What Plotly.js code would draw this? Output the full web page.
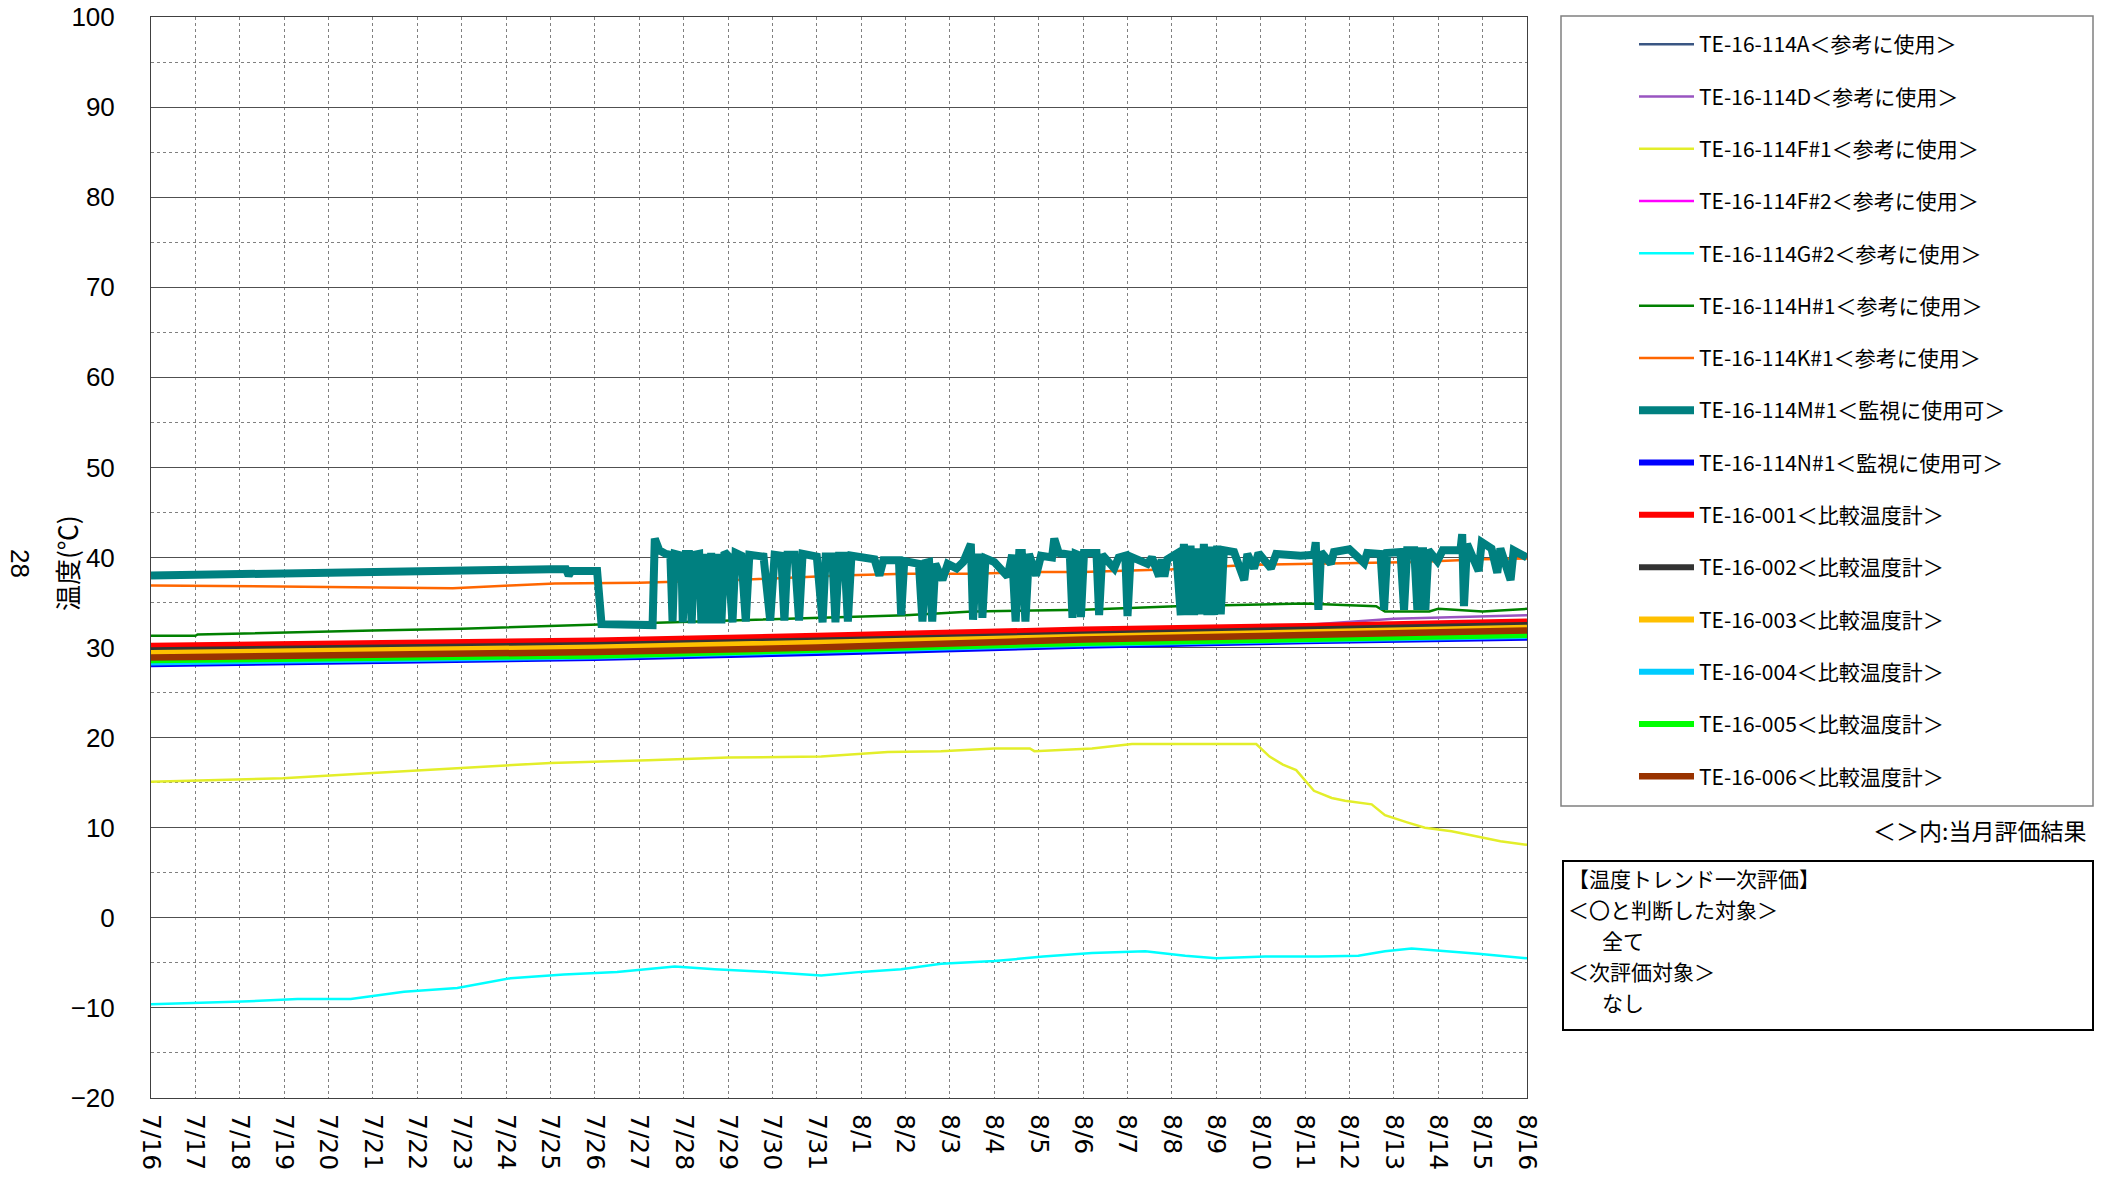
<!DOCTYPE html>
<html>
<head>
<meta charset="utf-8">
<script src="https://cdn.plot.ly/plotly-3.0.1.min.js"></script>
<style>html,body{margin:0;padding:0;background:#fff;}#chart{width:2109px;height:1180px;}</style>
</head>
<body>
<div id="chart"></div>
<script>
// ---- Data (x = days since 7/16) ----
const tickLabels = ['7/16','7/17','7/18','7/19','7/20','7/21','7/22','7/23','7/24','7/25','7/26','7/27','7/28','7/29','7/30','7/31',
  '8/1','8/2','8/3','8/4','8/5','8/6','8/7','8/8','8/9','8/10','8/11','8/12','8/13','8/14','8/15','8/16'];
const tickDays = [0,1,2,3,4,5,6,7,8,9,10,11,12,13,14,15,16,17,18,19,20,21,22,23,24,25,26,27,28,29,30,31];

const seriesNames = [
  'TE-16-114A＜参考に使用＞','TE-16-114D＜参考に使用＞','TE-16-114F#1＜参考に使用＞','TE-16-114F#2＜参考に使用＞',
  'TE-16-114G#2＜参考に使用＞','TE-16-114H#1＜参考に使用＞','TE-16-114K#1＜参考に使用＞','TE-16-114M#1＜監視に使用可＞',
  'TE-16-114N#1＜監視に使用可＞','TE-16-001＜比較温度計＞','TE-16-002＜比較温度計＞','TE-16-003＜比較温度計＞',
  'TE-16-004＜比較温度計＞','TE-16-005＜比較温度計＞','TE-16-006＜比較温度計＞'];

const aDays = [0, 10, 21, 31];
const aVals = [29.3, 29.9, 31.0, 32.0];
const dDays = [0, 10, 20, 26, 28, 31];
const dVals = [29.6, 30.2, 31.3, 32.5, 33.2, 33.6];
const f1Days = [0, 2.97, 5.1, 7.1, 9.0, 11.2, 13, 15.1, 16.6, 17.8, 19.0, 19.8, 19.9, 21.2, 22.1, 23.9, 24.9, 25.2, 25.5, 25.8, 26.2, 26.6, 26.9, 27.5, 27.8, 28.3, 28.7, 29.3, 29.9, 30.4, 31];
const f1Vals = [15.1, 15.5, 16.1, 16.7, 17.2, 17.5, 17.8, 17.9, 18.4, 18.5, 18.8, 18.8, 18.5, 18.8, 19.3, 19.3, 19.3, 17.9, 17.0, 16.4, 14.1, 13.3, 13.0, 12.6, 11.4, 10.6, 10.0, 9.6, 9.0, 8.5, 8.1];
const f2Days = [0, 10, 21, 31];
const f2Vals = [29.0, 29.6, 30.8, 31.8];
const g2Days = [0, 1.15, 2.06, 3.3, 4.5, 5.7, 6.9, 8.1, 9.3, 10.5, 11.8, 12.7, 13.9, 15.1, 16, 16.9, 17.8, 19, 20.1, 21.2, 22.4, 23.3, 24.0, 25.1, 26.3, 27.2, 27.8, 28.4, 29.2, 29.9, 31];
const g2Vals = [-9.6, -9.4, -9.3, -9.0, -9.0, -8.2, -7.8, -6.7, -6.3, -6.0, -5.4, -5.7, -6.0, -6.4, -6.0, -5.7, -5.1, -4.8, -4.3, -3.9, -3.7, -4.2, -4.5, -4.3, -4.3, -4.2, -3.7, -3.4, -3.7, -4.0, -4.5];
const h1Days = [0, 1.0, 1.05, 3.0, 5, 7, 9, 10, 11.4, 14, 17, 18.5, 21, 23.1, 26.0, 27.0, 27.6, 27.8, 28.8, 29.0, 30.0, 31];
const h1Vals = [31.3, 31.3, 31.45, 31.7, 31.9, 32.1, 32.4, 32.5, 32.7, 33.1, 33.6, 34.0, 34.2, 34.6, 34.9, 34.7, 34.6, 34.0, 34.0, 34.3, 34.0, 34.3];
const k1Days = [0, 5, 6.8, 8.1, 9.1, 11.0, 13.2, 15.5, 17, 18.5, 20.0, 21.0, 23.0, 24.8, 27.0, 28.5, 30.0, 31];
const k1Vals = [36.9, 36.7, 36.6, 36.9, 37.1, 37.2, 37.5, 38.0, 38.2, 38.2, 38.4, 38.4, 38.7, 39.2, 39.4, 39.5, 39.8, 39.9];
const m1Days = [0,1,2,3,5,7,9,9.35,9.41,9.47,10.05,10.15,11.0,11.3,11.35,11.45,11.6,11.7,11.75,11.8,11.95,11.98,12.05,12.12,12.18,12.24,12.35,12.4,12.47,12.55,12.62,12.7,12.77,12.85,12.92,13.0,13.1,13.17,13.3,13.4,13.48,13.8,13.95,14.05,14.2,14.27,14.34,14.5,14.6,14.68,15.0,15.13,15.2,15.35,15.42,15.5,15.62,15.7,15.78,16.3,16.41,16.5,16.85,16.9,16.97,17.3,17.38,17.45,17.53,17.6,17.67,17.83,17.95,18.15,18.3,18.47,18.52,18.6,18.7,18.73,18.8,19.0,19.3,19.4,19.48,19.56,19.62,19.7,19.78,19.94,20.05,20.3,20.35,20.45,20.7,20.76,20.83,20.88,20.95,21.02,21.3,21.36,21.43,21.7,21.8,21.95,22.0,22.07,22.45,22.55,22.71,22.77,22.83,22.9,23.1,23.2,23.27,23.35,23.42,23.5,23.57,23.65,23.72,23.8,23.87,23.95,24.02,24.1,24.17,24.4,24.63,24.7,24.85,24.95,25.23,25.35,25.9,26.2,26.24,26.3,26.36,26.58,26.65,27.0,27.33,27.4,27.7,27.78,27.85,28.15,28.23,28.3,28.46,28.53,28.6,28.66,28.71,28.78,28.98,29.1,29.5,29.54,29.58,29.65,29.91,29.98,30.2,30.33,30.4,30.63,30.7,31];
const m1Vals = [38.0,38.1,38.2,38.3,38.4,38.6,38.7,38.7,38.0,38.5,38.5,32.6,32.5,32.5,42.1,40.8,40.4,40.3,32.9,40.4,40.2,32.8,40.4,40.4,32.7,40.3,40.4,32.7,40.4,32.7,40.5,32.7,40.4,32.7,40.6,40.2,32.8,40.5,40.2,32.9,40.3,40.1,33.0,40.3,40.2,33.0,40.3,40.3,33.0,40.4,40.1,32.8,40.1,40.1,32.8,40.2,40.2,32.9,40.2,39.8,38.0,39.7,39.7,33.6,39.6,39.3,32.9,39.4,39.5,32.9,39.3,37.5,39.3,38.8,39.5,41.5,33.1,40.0,40.0,33.3,39.9,39.5,37.9,40.3,32.9,40.5,40.5,32.9,40.4,38.0,40.2,40.0,42.1,40.5,40.3,33.3,40.4,40.3,33.4,40.5,40.5,33.6,40.3,38.8,40.0,40.2,33.5,40.1,39.3,40.0,37.9,39.8,37.9,39.8,40.4,33.6,41.5,33.6,41.3,33.6,41.0,33.7,41.5,33.6,41.2,33.6,41.3,33.7,40.8,40.6,37.5,40.4,38.8,40.5,38.8,40.4,40.2,40.3,41.7,34.2,40.6,39.3,40.6,40.9,39.4,40.5,40.4,34.2,40.5,40.6,34.2,40.8,40.8,34.2,40.7,40.7,34.2,40.8,39.6,40.8,40.8,42.6,34.6,41.5,38.5,41.7,41.0,38.3,41.0,37.5,40.8,40.0];
const n1Days = [0, 5, 10, 15, 21, 26, 31];
const n1Vals = [28.15, 28.5, 28.85, 29.4, 30.2, 30.7, 31.1];
const t001Days = [0, 5, 10, 15, 21, 26, 31];
const t001Vals = [30.2, 30.5, 30.8, 31.3, 32.0, 32.4, 32.9];
const t002Days = [0, 5, 10, 15, 21, 26, 31];
const t002Vals = [29.7, 30.0, 30.3, 30.8, 31.5, 32.0, 32.5];
const t003Days = [0, 10, 21, 31];
const t003Vals = [29.4, 30.0, 31.2, 32.2];
const t004Days = [0, 10, 21, 31];
const t004Vals = [28.35, 29.0, 30.4, 31.3];
const t005Days = [0, 10, 21, 31];
const t005Vals = [28.6, 29.1, 30.5, 31.4];
const t006Days = [0, 5, 10, 15, 21, 26, 31];
const t006Vals = [28.9, 29.2, 29.5, 30.0, 30.9, 31.4, 31.9];

// ---- Styling ----
const colors = ['#3A5683','#9954C1','#E3EE2A','#FF00FF','#00FFFF','#008000','#FF6600','#008080',
  '#0000FF','#FF0000','#333333','#FFC000','#00CCFF','#00FF00','#993300'];
const widths = [2.5,2.5,2.5,2.5,2.5,2.5,2.5,8,6,6,6,6,6,6,6.5];
const xs = [aDays,dDays,f1Days,f2Days,g2Days,h1Days,k1Days,m1Days,n1Days,t001Days,t002Days,t003Days,t004Days,t005Days,t006Days];
const ys = [aVals,dVals,f1Vals,f2Vals,g2Vals,h1Vals,k1Vals,m1Vals,n1Vals,t001Vals,t002Vals,t003Vals,t004Vals,t005Vals,t006Vals];

const traces = seriesNames.map((n, i) => ({
  type: 'scatter', mode: 'lines', name: n, x: xs[i], y: ys[i],
  legendgroup: 'g' + i,
  line: {color: colors[i], width: widths[i]}
}));

// pixel helpers for layout placement
const L = 151, R = 1527, T = 17, B = 1098;
const px = p => (p - L) / (R - L);
const py = p => (B - p) / (B - T);

const jp = 'Noto Sans CJK JP, sans-serif';
const boxLines = ['【温度トレンド一次評価】','＜〇と判断した対象＞','全て','＜次評価対象＞','なし'];
const boxIndent = [0, 0, 1, 0, 1];
const boxY = [878, 909, 940, 971, 1002];

const annotations = [
  {xref:'paper', yref:'paper', x: px(20), y: py(563), xanchor:'center', yanchor:'middle', text:'28', showarrow:false, textangle:90,
   font:{family:'Liberation Sans, Arial', size:26, color:'#000'}},
  {xref:'paper', yref:'paper', x: px(67), y: py(563), xanchor:'center', yanchor:'middle', text:'温度(℃)', showarrow:false, textangle:-90,
   font:{family:jp, size:26, color:'#000'}},
  {xref:'paper', yref:'paper', x: px(2088), y: py(830), xanchor:'right', yanchor:'middle', text:'＜＞内:当月評価結果', showarrow:false,
   font:{family:jp, size:23, color:'#000'}}
];
boxLines.forEach((t, i) => annotations.push({
  xref:'paper', yref:'paper', x: px(boxIndent[i] ? 1600 : 1566), y: py(boxY[i]), xanchor:'left', yanchor:'middle',
  text: t, showarrow:false, font:{family:jp, size:21, color:'#000'}
}));

const layout = {
  width: 2109, height: 1180,
  margin: {l: L, r: 2109 - R, t: T, b: 1180 - B},
  paper_bgcolor: '#fff', plot_bgcolor: '#fff',
  showlegend: true,
  xaxis: {
    range: [0, 31], tickvals: tickDays, ticktext: tickLabels, tickangle: 90,
    showgrid: true, gridcolor: '#808080', griddash: 'dot', gridwidth: 1,
    showline: true, linecolor: '#404040', linewidth: 1, mirror: true,
    ticks: '', ticklabelstandoff: 10, zeroline: false,
    tickfont: {family: 'DejaVu Sans, sans-serif', size: 25, color: '#000'}
  },
  yaxis: {
    range: [-20, 100], dtick: 10, tick0: 0,
    showgrid: true, gridcolor: '#505050', gridwidth: 1,
    minor: {dtick: 5, showgrid: true, gridcolor: '#808080', griddash: 'dot', gridwidth: 1},
    showline: true, linecolor: '#404040', linewidth: 1, mirror: true,
    ticks: '', ticklabelstandoff: 30, zeroline: false,
    tickfont: {family: 'Liberation Sans, Arial', size: 26, color: '#000'}
  },
  legend: {
    x: px(1634), xanchor: 'left', y: py(24), yanchor: 'top',
    bgcolor: 'rgba(0,0,0,0)', borderwidth: 0,
    font: {family: jp, size: 21, color: '#000'},
    traceorder: 'grouped', tracegroupgap: 22, itemwidth: 55
  },
  shapes: [
    {type:'rect', xref:'paper', yref:'paper', x0: px(1561), x1: px(2093), y0: py(806), y1: py(16),
     line:{color:'#808080', width:1.5}, fillcolor:'rgba(0,0,0,0)', layer:'below'},
    {type:'rect', xref:'paper', yref:'paper', x0: px(1563), x1: px(2093), y0: py(1030), y1: py(861),
     line:{color:'#000', width:2}, fillcolor:'rgba(0,0,0,0)'}
  ],
  annotations: annotations
};

Plotly.newPlot('chart', traces, layout, {displayModeBar: false, staticPlot: true});
</script>
</body>
</html>
